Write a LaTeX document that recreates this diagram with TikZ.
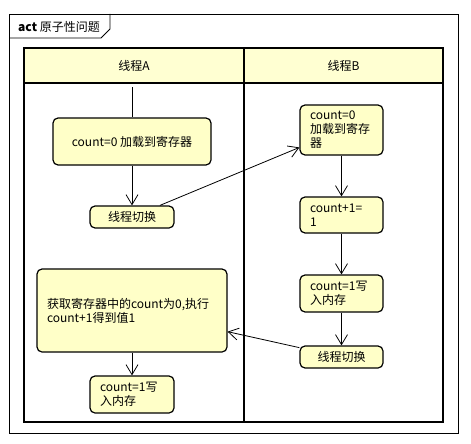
\documentclass[tikz,border=0pt]{standalone}
\usepackage{fontspec}
\setmainfont{Noto Sans CJK SC}
\usetikzlibrary{arrows.meta}
\definecolor{boxfill}{HTML}{FFFFC8}
\definecolor{headfill}{HTML}{FFFFD2}
\tikzset{
  act/.style={draw=black, line width=1.2pt, rounded corners=5pt, fill=boxfill,
    font=\fontsize{12}{14}\selectfont, inner sep=0pt, anchor=center},
  actc/.style={act, align=center},
  actl/.style={act, align=left, inner xsep=10pt},
  flow/.style={draw=black, line width=0.8pt, -{Straight Barb[length=10pt,width=12pt]}},
  lane/.style={draw=black, line width=1.8pt},
}
\begin{document}
\begin{tikzpicture}[x=1pt,y=-1pt]
\useasboundingbox (0,0) rectangle (471,444);
\fill[white] (0,0) rectangle (471,444);
% outer frame
\draw[line width=0.9pt] (9,14) rectangle (458,433);
\draw[line width=0.9pt] (9,38) -- (101,38) -- (110,29) -- (110,14);
\node[anchor=west, inner sep=0pt, font=\fontsize{12}{14}\selectfont] (title) at (18,27) {\textbf{act} 原子性问题};
% swimlanes
\fill[headfill] (24,48) rectangle (443,83);
\draw[lane] (24,48) rectangle (443,422);
\draw[lane] (24,83) -- (443,83);
\draw[lane] (244,48) -- (244,422);
\node[font=\fontsize{12}{14}\selectfont, inner sep=0pt] (laneA) at (134,66) {线程A};
\node[font=\fontsize{12}{14}\selectfont, inner sep=0pt] (laneB) at (343.5,66) {线程B};
% nodes
\coordinate (start) at (132,87);
\node[actc, minimum width=158pt, minimum height=47pt] (a1) at (132,141.5) {count=0 加载到寄存器};
\node[actc, minimum width=84pt, minimum height=22pt] (a2) at (132,217) {线程切换};
\node[actl, text width=63pt, minimum height=50pt] (b1) at (341.5,130) {count=0\\加载到寄存\\器};
\node[actl, text width=63pt, minimum height=36pt] (b2) at (341.5,215) {count+1=\\1};
\node[actl, text width=63pt, minimum height=37pt] (b3) at (341.5,293.5) {count=1写\\入内存};
\node[actc, minimum width=83pt, minimum height=22pt] (b4) at (341.5,357) {线程切换};
\node[actl, text width=170pt, minimum height=83pt] (a3) at (132,310.5) {获取寄存器中的count为0,执行\\count+1得到值1};
\node[actl, text width=64pt, minimum height=37pt] (a4) at (132,394.5) {count=1写\\入内存};
% connectors
\draw[line width=0.8pt] (start) -- (a1.north);
\draw[flow] (a1) -- (a2);
\draw[flow] (a2) -- (b1);
\draw[flow] (b1) -- (b2);
\draw[flow] (b2) -- (b3);
\draw[flow] (b3) -- (b4);
\draw[flow] (b4) -- (a3);
\draw[flow] (a3) -- (a4);
\end{tikzpicture}
\end{document}
